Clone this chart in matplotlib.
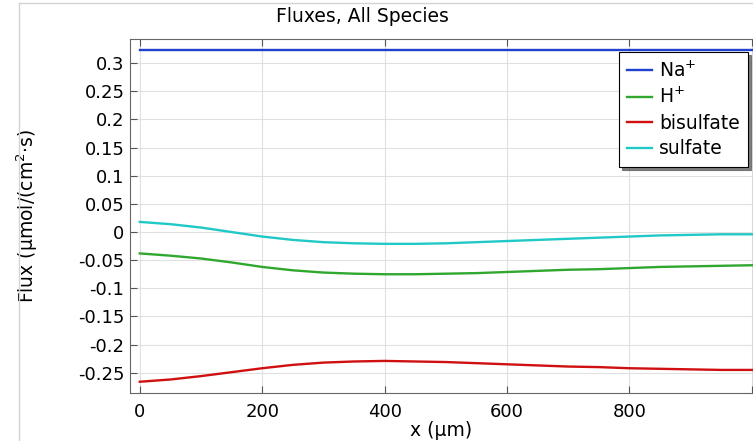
import matplotlib.pyplot as plt
from matplotlib.lines import Line2D

x = [0, 50, 100, 150, 200, 250, 300, 350, 400, 450, 500,
     550, 600, 650, 700, 750, 800, 850, 900, 950, 1000]
na = [0.324] * len(x)
h = [-0.038, -0.042, -0.047, -0.054, -0.062, -0.068, -0.072, -0.074, -0.075, -0.075, -0.074,
     -0.073, -0.071, -0.069, -0.067, -0.066, -0.064, -0.062, -0.061, -0.060, -0.059]
bisulfate = [-0.266, -0.262, -0.256, -0.249, -0.242, -0.236, -0.232, -0.230, -0.229, -0.230, -0.231,
             -0.233, -0.235, -0.237, -0.239, -0.240, -0.242, -0.243, -0.244, -0.245, -0.245]
sulfate = [0.018, 0.014, 0.008, 0.000, -0.008, -0.014, -0.018, -0.020, -0.021, -0.021, -0.020,
           -0.018, -0.016, -0.014, -0.012, -0.010, -0.008, -0.006, -0.005, -0.004, -0.004]

plt.rcParams['font.family'] = ['DejaVu Sans']
fig = plt.figure(figsize=(7.53, 4.41), dpi=100)
ax = fig.add_axes([130 / 753, 48 / 441, 623 / 753, 354 / 441])

# thin window border
fig.add_artist(Line2D([19 / 753, 19 / 753], [0, 1 - 3 / 441], color='#d4d4d4', lw=1))
fig.add_artist(Line2D([19 / 753, 1], [1 - 3 / 441, 1 - 3 / 441], color='#d4d4d4', lw=1))

ax.plot(x, na, color='#2040d0', lw=1.7, label='Na$^{+}$')
ax.plot(x, h, color='#30a830', lw=1.7, label='H$^{+}$')
ax.plot(x, bisulfate, color='#d01010', lw=1.7, label='bisulfate')
ax.plot(x, sulfate, color='#20c8c8', lw=1.7, label='sulfate')

ax.set_xlim(-16, 1002)
ax.set_ylim(-0.286, 0.343)
ax.set_xticks([0, 200, 400, 600, 800, 1000])
ax.set_xticklabels(['0', '200', '400', '600', '800', ''])
ax.set_yticks([0.3, 0.25, 0.2, 0.15, 0.1, 0.05, 0, -0.05, -0.1, -0.15, -0.2, -0.25])
ax.set_yticklabels(['0.3', '0.25', '0.2', '0.15', '0.1', '0.05', '0', '-0.05', '-0.1',
                    '-0.15', '-0.2', '-0.25'])
ax.tick_params(direction='in', top=True, labelsize=13, length=5, color='#555555')
ax.tick_params(axis='x', pad=7)
ax.tick_params(axis='y', pad=4)
ax.grid(color='#e0e0e0', lw=0.8)
for s in ax.spines.values():
    s.set_color('#666666')

fig.text(362 / 753, 1 - 17 / 441, 'Fluxes, All Species', fontsize=13.5,
         ha='center', va='center')
ax.set_xlabel('x (µm)', fontsize=13.5, labelpad=0)
ax.set_ylabel('Flux (µmol/(cm$^{2}$·s)', fontsize=13.5)
ax.yaxis.set_label_coords(-0.145, 0.5)

leg = ax.legend(loc='upper right', fontsize=13.5, fancybox=False,
                shadow={'ox': 2.2, 'oy': -2.2, 'color': '#606060', 'alpha': 0.8},
                framealpha=1, edgecolor='black', handlelength=1.35,
                borderaxespad=0, labelspacing=0.35, handletextpad=0.35,
                borderpad=0.45, bbox_to_anchor=(748 / 753, 1 - 52 / 441),
                bbox_transform=fig.transFigure)
leg.get_frame().set_linewidth(0.8)

fig.savefig('out.png', dpi=100)
